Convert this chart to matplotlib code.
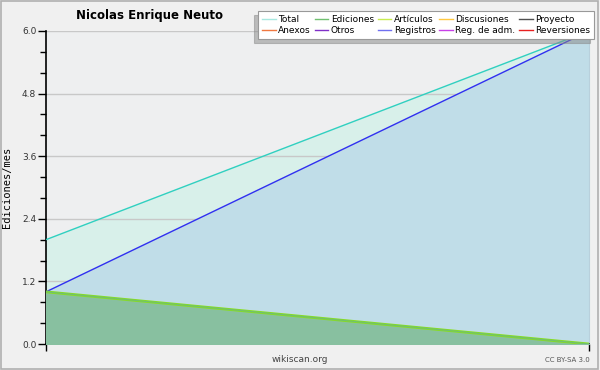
import matplotlib.pyplot as plt
from matplotlib.lines import Line2D
from matplotlib.patches import Rectangle

#########################################################
# Data
#########################################################

months = [0, 1]
total = [2.0, 6.0]
registros = [1.0, 6.0]
ediciones = [1.0, 0.0]

yticks = [0.0, 1.2, 2.4, 3.6, 4.8, 6.0]
legend_labels = ["Total", "Ediciones", "Artículos", "Discusiones", "Proyecto",
                 "Anexos", "Otros", "Registros", "Reg. de adm.", "Reversiones"]
legend_colors = ["#a8e8e0", "#70c070", "#c8ec50", "#ffc840", "#505050",
                 "#f07840", "#8030c8", "#7070f0", "#c840e8", "#e82020"]

#########################################################
# Plot
#########################################################

fig = plt.figure(figsize=(6, 3.7), dpi=100, facecolor="#f0f0f0")
fig.patches.append(Rectangle((0.002, 0.003), 0.995, 0.994, transform=fig.transFigure,
                             fill=False, edgecolor="#b0b0b0", linewidth=1.2))
ax = fig.add_axes([46/600, 1 - 344/370, 543/600, 313/370])
ax.set_facecolor("#eeeff0")

ax.fill_between(months, total, color="#d8f0ea", zorder=1)
ax.fill_between(months, registros, color="#c0dde8", zorder=2)
ax.fill_between(months, ediciones, color="#88c0a0", zorder=3)
ax.plot(months, total, color="#30d0c0", linewidth=1, zorder=4)
ax.plot(months, registros, color="#3030f0", linewidth=1, zorder=4)
ax.plot(months, ediciones, color="#88dd22", linewidth=2, zorder=5)
ax.plot(months, ediciones, color="#70c070", linewidth=0.8, zorder=5)

ax.set_xlim(0, 1)
ax.set_ylim(0, 6)
ax.set_yticks(yticks)
ax.set_yticklabels([f"{v:.1f}" for v in yticks], fontsize=6.5, color="#333333")
ax.set_yticks([v + d for v in yticks[:-1] for d in (0.4, 0.8)], minor=True)
ax.set_xticks([0, 1])
ax.set_xticklabels([])
ax.tick_params(axis="y", which="major", length=6, width=1, pad=1)
ax.tick_params(axis="y", which="minor", length=4, width=1)
ax.tick_params(axis="x", length=5, width=1, direction="out")
ax.grid(axis="y", color="#c8c8c8", linewidth=1, zorder=0)
ax.spines["top"].set_visible(False)
ax.spines["right"].set_color("#b8d0dc")
ax.spines["left"].set_linewidth(1.2)
ax.spines["bottom"].set_linewidth(1.2)

ax.set_ylabel("Ediciones/mes", fontsize=7.5, family="DejaVu Sans Mono")
ax.yaxis.set_label_coords(-34/543, 0.5)
fig.text(0.25, 0.958, "Nicolas Enrique Neuto", ha="center", va="center",
         fontsize=8.5, fontweight="bold")
fig.text(0.5, 0.028, "wikiscan.org", ha="center", va="center", fontsize=6.5, color="#444444")
fig.text(0.983, 0.028, "CC BY-SA 3.0", ha="right", va="center", fontsize=5, color="#555555")

handles = [Line2D([], [], color=c, linewidth=1) for c in legend_colors]
order = [0, 5, 1, 6, 2, 7, 3, 8, 4, 9]
leg = fig.legend([handles[i] for i in order], [legend_labels[i] for i in order],
                 ncol=5, loc="upper right", bbox_to_anchor=(0.99, 0.97),
                 fontsize=6.5, frameon=True, fancybox=False, framealpha=1,
                 shadow={"ox": -3, "oy": -3, "color": "#888888"},
                 handlelength=1.5, handletextpad=0.3, columnspacing=0.4,
                 labelspacing=0.25, borderpad=0.4, borderaxespad=0)
leg.get_frame().set_edgecolor("#999999")
leg.get_frame().set_linewidth(0.8)

plt.savefig("out.png", dpi=100, facecolor=fig.get_facecolor())
